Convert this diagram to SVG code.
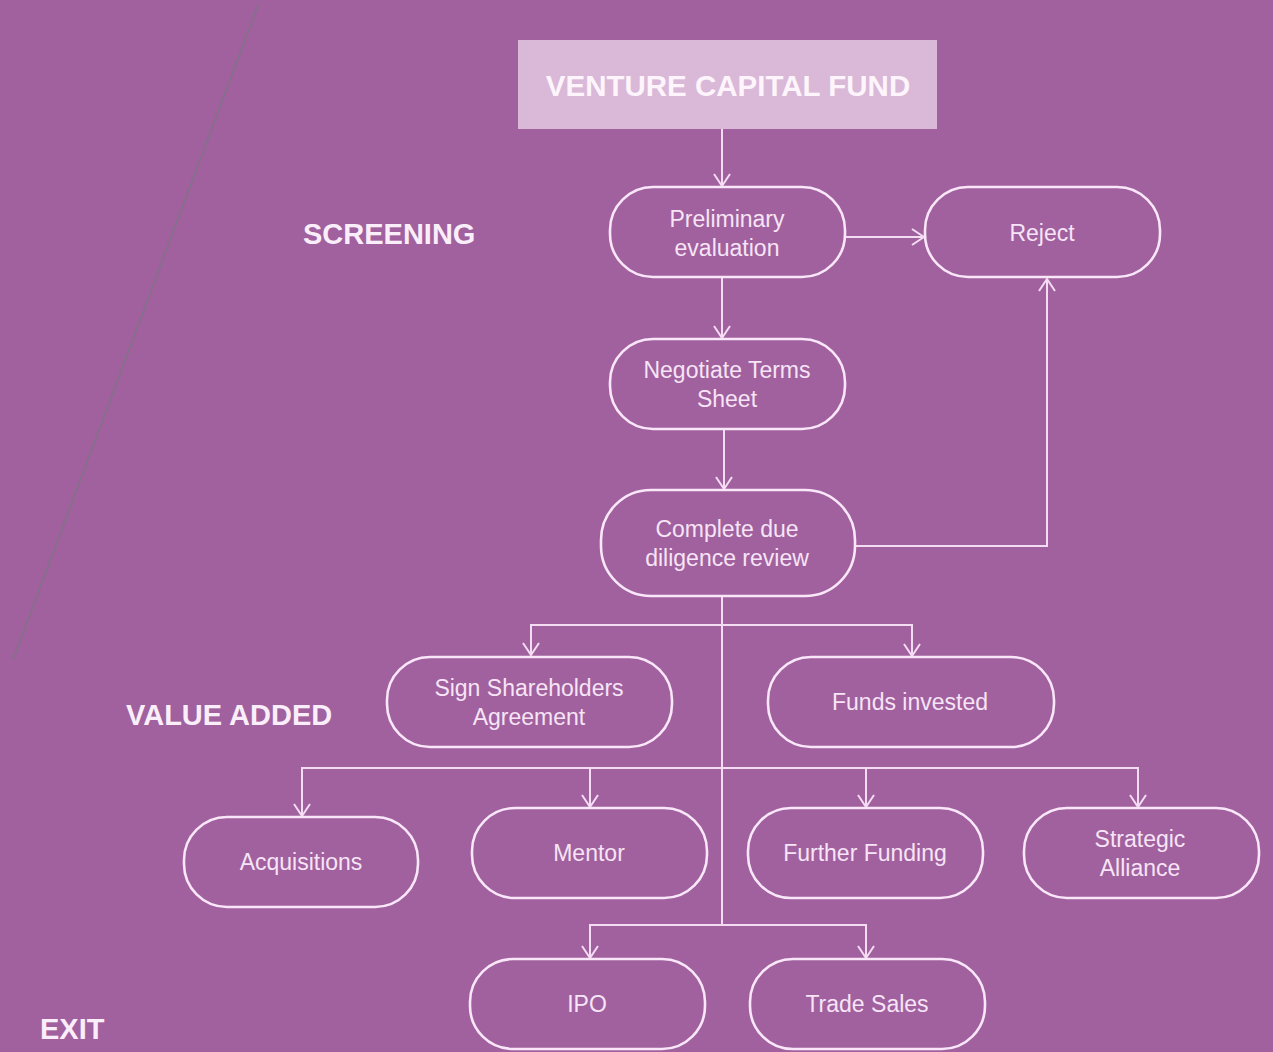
<svg xmlns="http://www.w3.org/2000/svg" width="1273" height="1052" viewBox="0 0 1273 1052">
<defs>
<marker id="arr" markerUnits="userSpaceOnUse" markerWidth="14" markerHeight="18" viewBox="0 0 14 18" refX="13" refY="9" orient="auto">
<path d="M1,1 L13,9 L1,17" fill="none" stroke="#f4dcf2" stroke-width="2"/>
</marker>
<style>
.node rect{fill:none;stroke:#f9e6f8;stroke-width:2.6}
.node text{font-family:"Liberation Sans",Arial,sans-serif;font-size:23px;fill:#f7e4f6;text-anchor:middle}
.lbl{font-family:"Liberation Sans",Arial,sans-serif;font-size:29px;font-weight:bold;fill:#fbeefb}
#connectors path{fill:none;stroke:#f4dcf2;stroke-width:2}
</style>
</defs>
<rect width="1273" height="1052" fill="#a0619e"/>
<line x1="258" y1="5" x2="13" y2="660" stroke="#85708a" stroke-width="1.8"/>
<text class="lbl" x="303" y="244">SCREENING</text>
<text class="lbl" x="126" y="725">VALUE ADDED</text>
<text class="lbl" x="40" y="1039">EXIT</text>
<g id="connectors">
<path d="M722,129 V186" marker-end="url(#arr)"/>
<path d="M845,237 H924" marker-end="url(#arr)"/>
<path d="M722,277 V338" marker-end="url(#arr)"/>
<path d="M724,429 V489" marker-end="url(#arr)"/>
<path d="M855,546 H1047 V279" marker-end="url(#arr)"/>
<path d="M722,596 V925"/>
<path d="M722,625 H531 V655" marker-end="url(#arr)"/>
<path d="M722,625 H912 V656" marker-end="url(#arr)"/>
<path d="M722,768 H302 V816" marker-end="url(#arr)"/>
<path d="M590,768 V807" marker-end="url(#arr)"/>
<path d="M722,768 H1138 V807" marker-end="url(#arr)"/>
<path d="M866,768 V807" marker-end="url(#arr)"/>
<path d="M722,925 H590 V958" marker-end="url(#arr)"/>
<path d="M722,925 H866 V958" marker-end="url(#arr)"/>
</g>
<g id="vcf">
<rect x="518" y="40" width="419" height="89" fill="#d9b9d7"/>
<text x="728" y="96" font-family="Liberation Sans,Arial,sans-serif" font-size="29.5" font-weight="bold" fill="#fdf4fc" text-anchor="middle">VENTURE CAPITAL FUND</text>
</g>
<g id="prelim" class="node"><rect x="610" y="187" width="235" height="90" rx="43"/><text x="727" y="227">Preliminary</text><text x="727" y="256">evaluation</text></g>
<g id="reject" class="node"><rect x="925" y="187" width="235" height="90" rx="43"/><text x="1042" y="241">Reject</text></g>
<g id="negotiate" class="node"><rect x="610" y="339" width="235" height="90" rx="43"/><text x="727" y="378">Negotiate Terms</text><text x="727" y="407">Sheet</text></g>
<g id="complete" class="node"><rect x="601" y="490" width="254" height="106" rx="50"/><text x="727" y="537">Complete due</text><text x="727" y="566">diligence review</text></g>
<g id="sign" class="node"><rect x="387" y="657" width="285" height="90" rx="43"/><text x="529" y="696">Sign Shareholders</text><text x="529" y="725">Agreement</text></g>
<g id="funds" class="node"><rect x="768" y="657" width="286" height="90" rx="43"/><text x="910" y="710">Funds invested</text></g>
<g id="acq" class="node"><rect x="184" y="817" width="234" height="90" rx="43"/><text x="301" y="870">Acquisitions</text></g>
<g id="mentor" class="node"><rect x="472" y="808" width="235" height="90" rx="43"/><text x="589" y="861">Mentor</text></g>
<g id="further" class="node"><rect x="748" y="808" width="235" height="90" rx="43"/><text x="865" y="861">Further Funding</text></g>
<g id="strategic" class="node"><rect x="1024" y="808" width="235" height="90" rx="43"/><text x="1140" y="847">Strategic</text><text x="1140" y="876">Alliance</text></g>
<g id="ipo" class="node"><rect x="470" y="959" width="235" height="90" rx="43"/><text x="587" y="1012">IPO</text></g>
<g id="trade" class="node"><rect x="750" y="959" width="235" height="90" rx="43"/><text x="867" y="1012">Trade Sales</text></g>
</svg>
